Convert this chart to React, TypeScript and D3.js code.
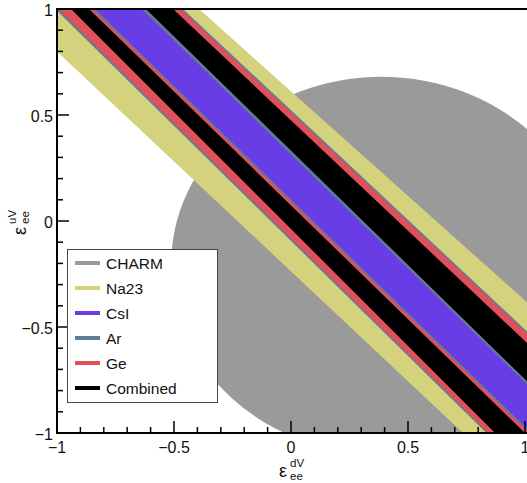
import React from 'react';
import * as d3 from 'd3';

const W = 527;
const H = 483;

// tick values and labels
const xMajorTicks = [-1, -0.5, 0, 0.5, 1];
const xTickLabels = ['\u22121', '\u22120.5', '0', '0.5', '1'];
const yMajorTicks = [-1, -0.5, 0, 0.5, 1];
const yTickLabels = ['\u22121', '\u22120.5', '0', '0.5', '1'];
const minorTicks = d3.range(-10, 11).map((i) => i / 10);

// Band edges: each edge is [x at y=+1, x at y=-1] (data units)
// each band/strip is [lower-left edge, upper-right edge]
const na23Band = [[-1.193, 0.735], [-0.393, 1.633]];
const csiBand = [[-0.9, 0.95], [-0.485, 1.44]];
const arStrips = [
  [[-1.008, 0.835], [-0.838, 1.028]],
  [[-0.638, 1.222], [-0.462, 1.472]],
];
const geStrips = [
  [[-0.995, 0.843], [-0.848, 1.018]],
  [[-0.58, 1.3], [-0.472, 1.462]],
];
const combinedStrips = [
  [[-0.94, 0.872], [-0.863, 1.0]],
  [[-0.62, 1.235], [-0.504, 1.416]],
];
// CHARM allowed region (ellipse): centre x, centre y, radius x, radius y
const charmEllipse = [0.387, -0.21, 0.9, 0.89];

const legendNames = ['CHARM', 'Na23', 'CsI', 'Ar', 'Ge', 'Combined'];
const legendColors = ['#9a9a9a', '#d5d27d', '#683de5', '#5f7d96', '#e0505a', '#000000'];

const C_CHARM = legendColors[0];
const C_NA = legendColors[1];
const C_CSI = legendColors[2];
const C_AR = legendColors[3];
const C_GE = legendColors[4];
const C_COMB = legendColors[5];

const x = d3.scaleLinear().domain([-1, 1]).range([57, 525]);
const y = d3.scaleLinear().domain([-1, 1]).range([433, 9]);

function edgeX(e: number[], yv: number) {
  return e[0] + ((e[1] - e[0]) * (1 - yv)) / 2;
}

function bandPath(band: number[][]) {
  const [a, b] = band;
  const yt = 1.1;
  const yb = -1.1;
  const pts: [number, number][] = [
    [x(edgeX(a, yt)), y(yt)],
    [x(edgeX(b, yt)), y(yt)],
    [x(edgeX(b, yb)), y(yb)],
    [x(edgeX(a, yb)), y(yb)],
  ];
  return d3.line()(pts) + 'Z';
}

const FONT = 'Liberation Sans, Arial, Helvetica, sans-serif';

export default function App() {
  const [ecx, ecy, erx, ery] = charmEllipse;
  return (
    <svg
      width={W}
      height={H}
      style={{ position: 'absolute', left: 0, top: 0, background: '#fff' }}
      fontFamily={FONT}
    >
      <defs>
        <clipPath id="plotclip">
          <rect x={57} y={9} width={527 - 57} height={433 - 9} />
        </clipPath>
      </defs>
      <rect x={0} y={0} width={W} height={H} fill="#fff" />
      <g clipPath="url(#plotclip)">
        <ellipse
          cx={x(ecx)}
          cy={y(ecy)}
          rx={x(erx) - x(0)}
          ry={y(0) - y(ery)}
          fill={C_CHARM}
        />
        <path d={bandPath(na23Band)} fill={C_NA} />
        <path d={bandPath(csiBand)} fill={C_CSI} />
        {arStrips.map((s, i) => (
          <path key={'ar' + i} d={bandPath(s)} fill={C_AR} />
        ))}
        {geStrips.map((s, i) => (
          <path key={'ge' + i} d={bandPath(s)} fill={C_GE} />
        ))}
        {combinedStrips.map((s, i) => (
          <path key={'cb' + i} d={bandPath(s)} fill={C_COMB} />
        ))}
      </g>

      {/* frame */}
      <line x1={56} x2={527} y1={9} y2={9} stroke="#000" strokeWidth={2} />
      <line x1={57} x2={57} y1={8} y2={434} stroke="#000" strokeWidth={2} />
      <line x1={56} x2={527} y1={433} y2={433} stroke="#000" strokeWidth={2} />

      {/* ticks */}
      {minorTicks.map((t, i) => {
        const major = Math.abs(t * 2 - Math.round(t * 2)) < 1e-6;
        const len = major ? 12 : 6;
        return (
          <g key={'t' + i}>
            <line x1={x(t)} x2={x(t)} y1={433} y2={433 - len} stroke="#000" strokeWidth={1.5} />
            <line x1={57} x2={57 + len} y1={y(t)} y2={y(t)} stroke="#000" strokeWidth={1.5} />
          </g>
        );
      })}

      {/* tick labels */}
      {xMajorTicks.map((t, i) => (
        <text key={'xl' + i} x={x(t)} y={453} textAnchor="middle" fontSize={16} fill="#111">
          {xTickLabels[i]}
        </text>
      ))}
      {yMajorTicks.map((t, i) => (
        <text key={'yl' + i} x={53} y={y(t) + 6.5} textAnchor="end" fontSize={16} fill="#111">
          {yTickLabels[i]}
        </text>
      ))}

      {/* x title */}
      <g transform="translate(279,477)">
        <text x={0} y={0} fontSize={18} fill="#111">ε</text>
        <text x={11} y={-10.5} fontSize={11.5} fill="#111">dV</text>
        <text x={11} y={2.5} fontSize={11.5} fill="#111">ee</text>
      </g>
      {/* y title */}
      <g transform="translate(26,235) rotate(-90)">
        <text x={0} y={0} fontSize={18} fill="#111">ε</text>
        <text x={11} y={-10.5} fontSize={11.5} fill="#111">uV</text>
        <text x={11} y={2.5} fontSize={11.5} fill="#111">ee</text>
      </g>

      {/* legend */}
      <rect x={67.5} y={249.5} width={150} height={153} fill="#fff" stroke="#444" strokeWidth={1} />
      {legendNames.map((n, i) => {
        const ly = 263 + i * 25;
        return (
          <g key={'lg' + i}>
            <line x1={75} x2={100} y1={ly} y2={ly} stroke={legendColors[i]} strokeWidth={4} />
            <text x={106} y={ly + 5.5} fontSize={15.5} fill="#111">
              {n}
            </text>
          </g>
        );
      })}
    </svg>
  );
}
